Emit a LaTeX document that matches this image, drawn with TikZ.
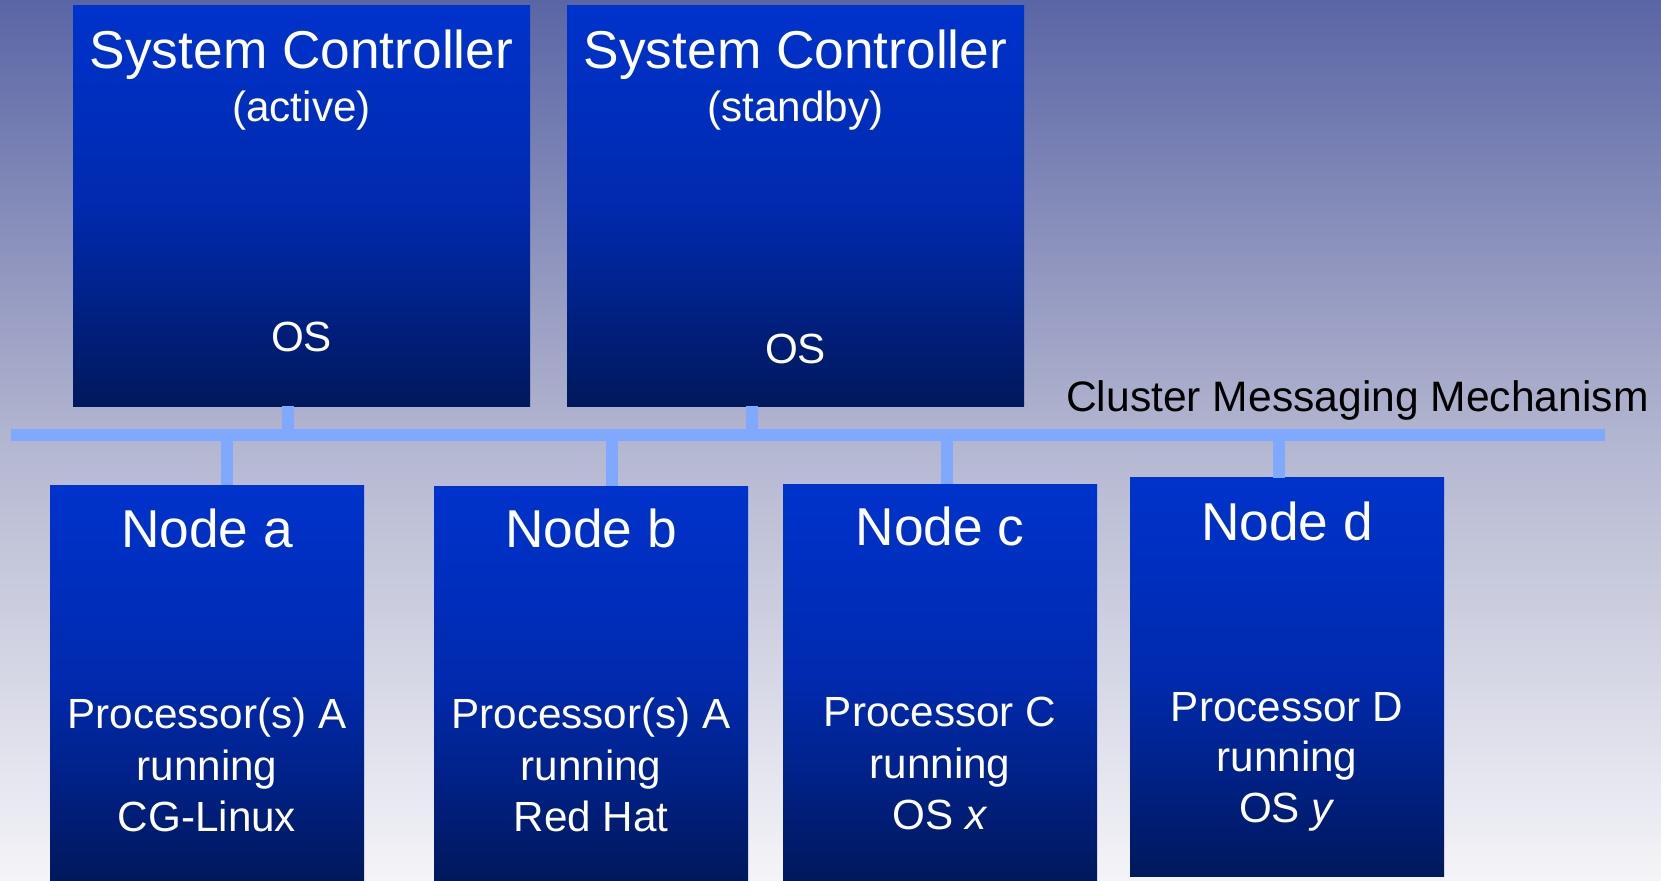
\documentclass[tikz,border=0pt]{standalone}
\usepackage{fontspec}
\setmainfont{Liberation Sans}
\definecolor{bgtop}{HTML}{5A65A5}
\definecolor{bgmid}{HTML}{B3B6D0}
\definecolor{bgbot}{HTML}{F4F4F8}
\definecolor{boxtop}{HTML}{0033CC}
\definecolor{boxmid}{HTML}{002AAE}
\definecolor{boxbot}{HTML}{00185C}
\definecolor{buscol}{HTML}{80A8FF}
\begin{document}
\begin{tikzpicture}[x=1pt,y=-1pt,
  box/.style={rectangle, inner sep=0pt, outer sep=0pt, draw=none,
    top color=boxtop, bottom color=boxbot, middle color=boxmid},
  ttl/.style={anchor=base, text=white, inner sep=0pt, font=\fontsize{53.3}{60}\selectfont},
  txt/.style={anchor=base, text=white, inner sep=0pt, font=\fontsize{42.2}{50}\selectfont},
  busbar/.style={rectangle, fill=buscol, inner sep=0pt, outer sep=0pt, draw=none},
  stub/.style={draw=buscol, line width=12pt}]
% background
\useasboundingbox (0,0) rectangle (1661,880);
\fill[top color=bgtop, bottom color=bgbot, middle color=bgmid] (0,0) rectangle (1661,880);
% boxes
\node[box, minimum width=457pt, minimum height=400pt] (sca) at (301.5,206) {};
\node[box, minimum width=457pt, minimum height=400pt] (scs) at (795.5,206) {};
\node[box, minimum width=314pt, minimum height=395pt] (na) at (207,682.5) {};
\node[box, minimum width=314pt, minimum height=394pt] (nb) at (591,683) {};
\node[box, minimum width=314pt, minimum height=396pt] (nc) at (940,682) {};
\node[box, minimum width=314pt, minimum height=398.7pt] (nd) at (1287,677.3) {};
% bus
\node[busbar, minimum width=1594pt, minimum height=11.7pt] (bus) at (807.7,435.2) {};
% stubs
\draw[stub] ([xshift=-13.5pt]sca.south) -- ([xshift=-13.5pt]sca.south |- bus.north);
\draw[stub] ([xshift=-43.2pt]scs.south) -- ([xshift=-43.2pt]scs.south |- bus.north);
\draw[stub] ([xshift=20pt]na.north) -- ([xshift=20pt]na.north |- bus.south);
\draw[stub] ([xshift=21.3pt]nb.north) -- ([xshift=21.3pt]nb.north |- bus.south);
\draw[stub] ([xshift=6.8pt]nc.north) -- ([xshift=6.8pt]nc.north |- bus.south);
\draw[stub] ([xshift=-8.5pt]nd.north) -- ([xshift=-8.5pt]nd.north |- bus.south);
% system controllers
\node[ttl] (sca-t) at (301.5,68.5) {System Controller};
\node[txt] (sca-s) at (301.5,121.7) {(active)};
\node[txt] (sca-os) at (301.5,351.7) {OS};
\node[ttl] (scs-t) at (795.5,68.3) {System Controller};
\node[txt] (scs-s) at (795.5,121.7) {(standby)};
\node[txt] (scs-os) at (795.5,363.3) {OS};
% node a
\node[ttl] (na-t) at (207,547.7) {Node a};
\node[txt] (na-1) at (207,728) {Processor(s) A};
\node[txt] (na-2) at (207,780) {running};
\node[txt] (na-3) at (207,831.7) {CG-Linux};
% node b
\node[ttl] (nb-t) at (591,547.7) {Node b};
\node[txt] (nb-1) at (591,728.6) {Processor(s) A};
\node[txt] (nb-2) at (591,780) {running};
\node[txt] (nb-3) at (591,831.7) {Red Hat};
% node c
\node[ttl] (nc-t) at (940,545.4) {Node c};
\node[txt] (nc-1) at (940,726.9) {Processor C};
\node[txt] (nc-2) at (940,778.6) {running};
\node[txt] (nc-3) at (940,829.3) {OS \textit{x}};
% node d
\node[ttl] (nd-t) at (1287,540) {Node d};
\node[txt] (nd-1) at (1287,721.7) {Processor D};
\node[txt] (nd-2) at (1287,771.7) {running};
\node[txt] (nd-3) at (1287,822.7) {OS \textit{y}};
% bus label
\node[anchor=base west, inner sep=0pt, text=black, font=\fontsize{42.6}{50}\selectfont] (cmm) at (1066,411.7) {Cluster Messaging Mechanism};
\end{tikzpicture}
\end{document}
